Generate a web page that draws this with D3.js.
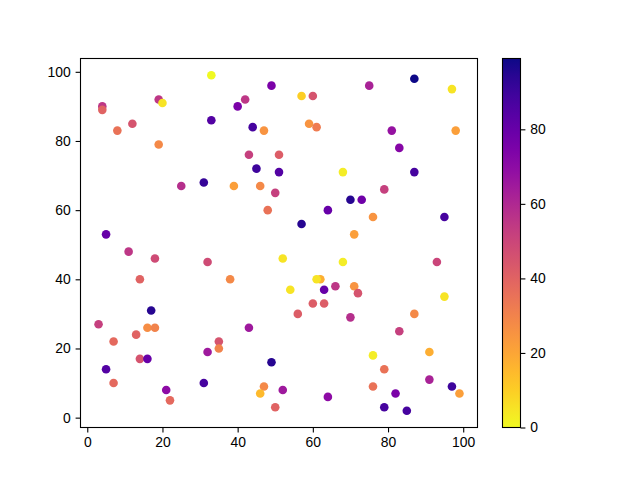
<!DOCTYPE html>
<html>
<head>
<meta charset="utf-8">
<script src="https://cdn.jsdelivr.net/npm/d3@7"></script>
<style>
  body { margin: 0; background: #fff; }
  svg { display: block; }
  text { font-family: "Liberation Sans", Arial, sans-serif; }
</style>
</head>
<body>
<div id="chart"></div>
<script>
//setting visual dimensions
const width = 640;
const height = 480;

//scatter data
const xValues = [4, 4, 8, 12, 19, 20, 19, 33, 33, 25, 31, 40, 42, 49, 44, 47, 43, 51, 45, 51,
  39, 46, 50, 48, 5, 57, 60, 75, 87, 97, 59, 61, 81, 98, 83, 68, 87, 79, 70, 73,
  64, 76, 95, 57, 71, 11, 18, 32, 52, 14, 38, 17, 3, 16, 18, 13, 7, 43, 35, 35,
  32, 14, 16, 5, 7, 31, 49, 47, 46, 52, 21, 22, 50, 68, 93, 62, 61, 54, 63, 66,
  71, 72, 95, 60, 63, 56, 70, 87, 83, 76, 91, 79, 76, 91, 97, 99, 82, 79, 85, 64];
const yValues = [90, 89, 83, 85, 92, 91, 79, 99, 86, 67, 68, 90, 92, 96, 84, 83, 76, 76, 72, 71,
  67, 67, 65, 60, 53, 93, 93, 96, 98, 95, 85, 84, 83, 83, 78, 71, 71, 66, 63, 63,
  60, 58, 58, 56, 53, 48, 46, 45, 46, 40, 40, 31, 27, 26, 26, 24, 22, 26, 22, 20,
  19, 17, 17, 14, 10, 10, 16, 9, 7, 8, 8, 5, 3, 45, 45, 40, 40, 37, 37, 38,
  38, 36, 35, 33, 33, 30, 29, 30, 25, 18, 19, 14, 9, 11, 9, 7, 7, 3, 2, 6];
const colorValues = [55, 40, 35, 45, 55, 5, 28, 0, 85, 58, 92, 75, 55, 75, 88, 25, 52, 42, 90, 85,
  22, 28, 52, 35, 80, 10, 45, 62, 99, 5, 25, 32, 68, 22, 72, 3, 88, 52, 95, 78,
  80, 25, 88, 95, 22, 55, 48, 48, 5, 40, 28, 95, 52, 27, 30, 40, 38, 65, 45, 30,
  65, 45, 80, 85, 38, 88, 95, 28, 15, 65, 70, 38, 40, 3, 50, 18, 5, 5, 80, 55,
  25, 45, 5, 42, 42, 42, 58, 28, 52, 3, 18, 35, 35, 62, 90, 22, 75, 88, 88, 70];

const xTicks = [0, 20, 40, 60, 80, 100];
const yTicks = [0, 20, 40, 60, 80, 100];
const colorbarTicks = [0, 20, 40, 60, 80];

//plot area and colorbar placement
const plot = { left: 80.5, right: 477.5, top: 58.5, bottom: 427.5 };
const cbar = { left: 502.5, right: 520.5, top: 58.5, bottom: 427.5 };

const svg = d3.select("#chart")
  .append("svg")
  .attr("width", width)
  .attr("height", height);

//matplotlib style 5% margins around the data
function paddedDomain(values) {
  const [lo, hi] = d3.extent(values);
  const pad = (hi - lo) * 0.05;
  return [lo - pad, hi + pad];
}

const x = d3.scaleLinear()
  .domain(paddedDomain(xValues))
  .range([plot.left, plot.right]);

const y = d3.scaleLinear()
  .domain(paddedDomain(yValues))
  .range([plot.bottom, plot.top]);

//reversed plasma colormap
const colorExtent = d3.extent(colorValues);
const color = d3.scaleSequential(t => d3.interpolatePlasma(1 - t))
  .domain(colorExtent);

const points = xValues.map((d, i) => ({ x: d, y: yValues[i], c: colorValues[i] }));

//draw points
svg.append("g")
  .selectAll("circle")
  .data(points)
  .enter()
  .append("circle")
  .attr("cx", d => x(d.x))
  .attr("cy", d => y(d.y))
  .attr("r", 4.3)
  .attr("fill", d => color(d.c));

//frame
svg.append("rect")
  .attr("x", plot.left)
  .attr("y", plot.top)
  .attr("width", plot.right - plot.left)
  .attr("height", plot.bottom - plot.top)
  .attr("fill", "none")
  .attr("stroke", "#000")
  .attr("stroke-width", 1.1);

//axes
function styleAxis(g) {
  g.select(".domain").remove();
  g.selectAll(".tick line").attr("stroke", "#000").attr("stroke-width", 1.1);
  g.selectAll(".tick text")
    .attr("fill", "#000")
    .style("font-size", "13.9px")
    .style("font-family", "'Liberation Sans', Arial, sans-serif");
}

svg.append("g")
  .attr("transform", `translate(0,${plot.bottom})`)
  .call(d3.axisBottom(x).tickValues(xTicks).tickSize(4.9).tickPadding(4.9).tickFormat(d3.format("d")))
  .call(styleAxis);

svg.append("g")
  .attr("transform", `translate(${plot.left},0)`)
  .call(d3.axisLeft(y).tickValues(yTicks).tickSize(4.9).tickPadding(4.9).tickFormat(d3.format("d")))
  .call(styleAxis);

//colorbar gradient
const grad = svg.append("defs")
  .append("linearGradient")
  .attr("id", "cbar-grad")
  .attr("x1", 0).attr("y1", 1)
  .attr("x2", 0).attr("y2", 0);

d3.range(0, 1.0001, 0.05).forEach(t => {
  grad.append("stop")
    .attr("offset", t)
    .attr("stop-color", color(colorExtent[0] + t * (colorExtent[1] - colorExtent[0])));
});

const cy = d3.scaleLinear()
  .domain(colorExtent)
  .range([cbar.bottom, cbar.top]);

svg.append("rect")
  .attr("x", cbar.left)
  .attr("y", cbar.top)
  .attr("width", cbar.right - cbar.left)
  .attr("height", cbar.bottom - cbar.top)
  .attr("fill", "url(#cbar-grad)")
  .attr("stroke", "#000")
  .attr("stroke-width", 1.1);

svg.append("g")
  .attr("transform", `translate(${cbar.right},0)`)
  .call(d3.axisRight(cy).tickValues(colorbarTicks).tickSize(4.9).tickPadding(4.9).tickFormat(d3.format("d")))
  .call(styleAxis);
</script>
</body>
</html>
